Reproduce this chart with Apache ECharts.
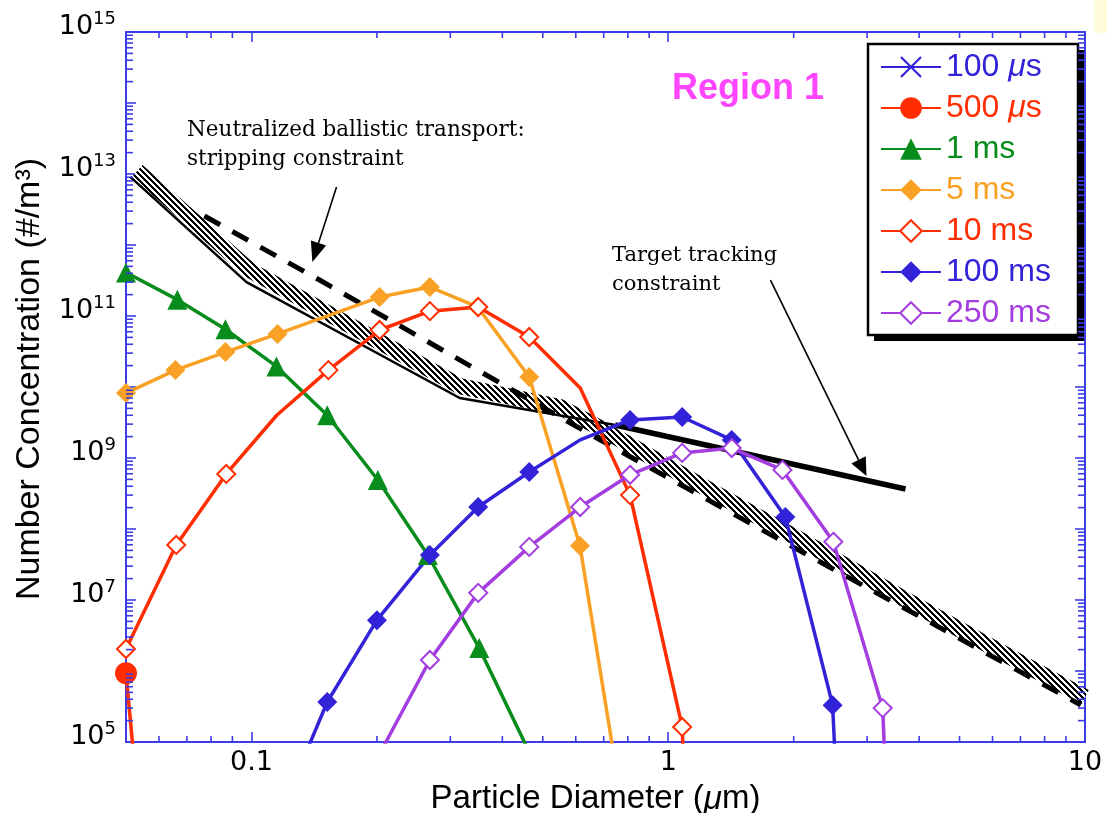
<!DOCTYPE html>
<html>
<head>
<meta charset="utf-8">
<script src="https://cdn.jsdelivr.net/npm/echarts@6/dist/echarts.min.js"></script>
<style>
  html, body { margin: 0; padding: 0; background: #ffffff; }
  #chart { width: 1107px; height: 813px; }
</style>
</head>
<body>
<div id="chart"></div>
<script>
// ---------------- data ----------------
// Particle diameter in micrometres, number concentration in #/m^3
const seriesNames = ['100 \u03bcs', '500 \u03bcs', '1 ms', '5 ms', '10 ms', '100 ms', '250 ms'];

const data100us = [];
const data500us = [[0.05, 9.3e5], [0.0526, 3.8e4]];
const data1ms = [
  [0.05, 4.1e11], [0.0664, 1.7e11], [0.0866, 6.5e10], [0.1148, 1.95e10], [0.152, 4.0e9],
  [0.201, 4.9e8], [0.265, 4.3e7], [0.352, 2.1e6], [0.46, 8e4]
];
const data5ms = [
  [0.05, 8.2e9], [0.0657, 1.73e10], [0.0866, 3.1e10], [0.1155, 5.6e10], [0.203, 1.85e11],
  [0.268, 2.56e11], [0.349, 1.34e11], [0.464, 1.38e10], [0.614, 5.8e7], [0.78, 1e4]
];
const data10ms = [
  [0.05, 2.04e6], [0.066, 5.96e7], [0.087, 5.96e8], [0.115, 4.0e9], [0.153, 1.73e10],
  [0.203, 6.35e10], [0.268, 1.17e11], [0.35, 1.34e11], [0.464, 5.06e10], [0.615, 9.7e9],
  [0.81, 3.0e8], [1.08, 1.63e5], [1.1, 1e4]
];
const data100ms = [
  [0.115, 7.4e3], [0.152, 3.66e5], [0.2, 5.2e6], [0.268, 4.3e7], [0.35, 2.04e8],
  [0.464, 6.35e8], [0.615, 1.8e9], [0.81, 3.43e9], [1.08, 3.78e9], [1.42, 1.8e9],
  [1.91, 1.48e8], [2.48, 3.3e5], [2.55, 1e4]
];
const data250ms = [
  [0.2, 5.8e4], [0.268, 1.43e6], [0.35, 1.26e7], [0.464, 5.6e7], [0.615, 2.04e8],
  [0.81, 5.8e8], [1.08, 1.18e9], [1.42, 1.38e9], [1.88, 6.8e8], [2.49, 6.6e7],
  [3.27, 3.0e5], [3.35, 1e4]
];

// Constraint curves
const strippingSolid = [[0.0512, 9.1e12], [0.0973, 3.0e11], [0.316, 7.0e9], [0.746, 2.92e9]];
const strippingDashed = [[0.0771, 2.56e12], [0.1457, 3.21e11], [0.686, 1.8e9], [1.858, 7.0e7], [9.77, 3.32e5]];
const strippingBand = [
  [0.0532, 1.1e13], [0.0989, 4.45e11], [0.316, 1.03e10], [0.55, 5.22e9], [0.686, 2.65e9],
  [1.194, 4.17e8], [2.077, 7.0e7], [3.61, 1.1e7], [6.28, 1.85e6], [10, 4.3e5]
];
const targetTracking = [[0.746, 2.92e9], [3.71, 3.66e8]];

// Axes
const xRange = [0.05, 10];
const yRange = [1e5, 1e15];
const xTickLabels = ['0.1', '1', '10'];
const yLabelExponents = [5, 7, 9, 11, 13, 15];
const xMinorTicks = [0.06, 0.07, 0.08, 0.09, 0.2, 0.3, 0.4, 0.5, 0.6, 0.7, 0.8, 0.9, 2, 3, 4, 5, 6, 7, 8, 9];
const yMinorTicks = [];
for (let e = 5; e < 15; e++) {
  for (let k = 2; k <= 9; k++) yMinorTicks.push(k * Math.pow(10, e));
}

// Annotation arrows (data coordinates)
const arrowStripping = { from: [0.160, 6.56e12], to: [0.140, 5.77e11] };
const arrowTarget = { from: [1.759, 3.21e11], to: [2.99, 5.57e8] };

// ---------------- styles ----------------
const AXIS = '#3c3ce6';
const BLUE = '#3223d9', RED = '#ff2d00', GREEN = '#088c1c', ORANGE = '#f9a125', PURPLE = '#a33ddf';
const seriesColors = [BLUE, RED, GREEN, ORANGE, RED, BLUE, PURPLE];
const CROSS = 'path://M0,0.7 L0.7,0 L5,4.3 L9.3,0 L10,0.7 L5.7,5 L10,9.3 L9.3,10 L5,5.7 L0.7,10 L0,9.3 L4.3,5 Z';

// legend frame
const LEGEND_BOX = { x: 868, y: 44, w: 210, h: 291, shadow: 6 };

// points on the line that carry no marker
const bare = {
  '500 \u03bcs': [1], '1 ms': [8], '5 ms': [9], '10 ms': [3, 9, 12],
  '100 ms': [0, 6, 12], '250 ms': [0, 11]
};

// diagonal hatch used for the stripping-constraint band
const hatch = document.createElement('canvas');
hatch.width = 6; hatch.height = 6;
(function () {
  const c = hatch.getContext('2d');
  c.fillStyle = '#ffffff'; c.fillRect(0, 0, 6, 6);
  c.fillStyle = '#000000';
  for (let i = 0; i < 6; i++) {
    c.fillRect(i, i, 1, 1);
    c.fillRect((i + 1) % 6, i, 1, 1);
    c.fillRect((i + 2) % 6, i, 1, 1);
  }
})();

function curve(name, data, color, symbol, size, hollow) {
  const skip = bare[name] || [];
  return {
    type: 'line', name, z: 3, silent: true, showAllSymbol: true, clip: true,
    symbol, symbolSize: size,
    data: data.map((p, i) => skip.includes(i) ? { value: p, symbol: 'none' } : p),
    lineStyle: { color, width: 3.5 },
    itemStyle: hollow ? { color: '#ffffff', borderColor: color, borderWidth: 2 } : { color, borderWidth: 0 },
    emphasis: { disabled: true }
  };
}

const legendRich = {};
seriesColors.forEach((c, i) => {
  legendRich['t' + i] = { color: c, fontSize: 32, fontFamily: 'Liberation Sans', lineHeight: 34 };
  legendRich['m' + i] = { color: c, fontSize: 32, fontFamily: 'Liberation Sans', fontStyle: 'italic', lineHeight: 34 };
});

const chart = echarts.init(document.getElementById('chart'), null, { renderer: 'canvas' });

function logAxis(range, position, extra) {
  return Object.assign({
    type: 'log', position, min: range[0], max: range[1], logBase: 10,
    axisLine: { show: true, onZero: false, lineStyle: { color: AXIS, width: 2 } },
    axisTick: { show: true, inside: true, length: 10, lineStyle: { color: AXIS, width: 1.6 } },
    minorTick: { show: false },
    splitLine: { show: false },
    minorSplitLine: { show: false }
  }, extra);
}

const option = {
  animation: false,
  backgroundColor: '#ffffff',
  grid: { left: 126, right: 22, top: 32, bottom: 71, containLabel: false, outerBoundsMode: 'none' },
  xAxis: [
    logAxis(xRange, 'bottom', {
      axisLabel: {
        show: true, showMinLabel: false, showMaxLabel: true, margin: 6,
        color: '#000', fontSize: 27, fontFamily: 'DejaVu Sans', lineHeight: 30,
        formatter: v => {
          const s = String(+Number(v).toPrecision(3));
          return xTickLabels.includes(s) ? s : '';
        }
      },
      name: '{n|Particle Diameter (}{i|\u03bc}{n|m)}',
      nameLocation: 'middle', nameGap: 36,
      nameTextStyle: {
        padding: [0, 20, 0, 0],
        rich: {
          n: { fontSize: 33, fontFamily: 'Liberation Sans', color: '#000', lineHeight: 36 },
          i: { fontSize: 33, fontFamily: 'Liberation Sans', fontStyle: 'italic', color: '#000', lineHeight: 36 }
        }
      }
    }),
    logAxis(xRange, 'top', { axisLabel: { show: false } })
  ],
  yAxis: [
    logAxis(yRange, 'left', {
      interval: 1,
      axisLabel: {
        show: true, margin: 10, padding: [0, 0, 13, 0],
        formatter: v => {
          const e = Math.round(Math.log10(v));
          return yLabelExponents.includes(e) ? '{b|10}{s|' + e + '}' : '';
        },
        rich: {
          b: { fontSize: 27, fontFamily: 'DejaVu Sans', color: '#000', lineHeight: 30, verticalAlign: 'bottom' },
          s: { fontSize: 18, fontFamily: 'DejaVu Sans', color: '#000', lineHeight: 30, verticalAlign: 'top' }
        }
      },
      name: 'Number Concentration (#/m\u00b3)',
      nameLocation: 'middle', nameGap: 76, nameRotate: 90,
      nameTextStyle: {
        fontSize: 34, fontFamily: 'Liberation Sans', color: '#000', lineHeight: 36,
        padding: [0, 0, 0, 16]
      }
    }),
    logAxis(yRange, 'right', { interval: 1, axisLabel: { show: false } })
  ],
  legend: {
    left: LEGEND_BOX.x, top: LEGEND_BOX.y, orient: 'vertical', selectedMode: false,
    padding: [6, 24, 5, 12], itemGap: 7, itemWidth: 60, itemHeight: 27,
    backgroundColor: 'transparent', borderWidth: 0,
    data: seriesNames.map((n, i) => ({ name: n, textStyle: { color: seriesColors[i] } })),
    formatter: name => {
      const i = seriesNames.indexOf(name);
      return name.split('\u03bc').map(s => '{t' + i + '|' + s + '}').join('{m' + i + '|\u03bc}');
    },
    textStyle: { fontSize: 32, fontFamily: 'Liberation Sans', lineHeight: 34, rich: legendRich }
  },
  series: [
    {
      type: 'line', name: 'band', z: 1, silent: true, symbol: 'none', clip: true,
      data: strippingBand,
      lineStyle: { color: { image: hatch, repeat: 'repeat' }, width: 16, cap: 'butt', join: 'miter' },
      emphasis: { disabled: true }
    },
    {
      type: 'line', name: 'solid', z: 2, silent: true, symbol: 'none', clip: true,
      data: strippingSolid, lineStyle: { color: '#000', width: 2.5 }, emphasis: { disabled: true }
    },
    {
      type: 'line', name: 'dashed', z: 2, silent: true, symbol: 'none', clip: true,
      data: strippingDashed, lineStyle: { color: '#000', width: 5, type: [18, 14], cap: 'butt' },
      emphasis: { disabled: true }
    },
    {
      type: 'line', name: 'target', z: 2, silent: true, symbol: 'none', clip: true,
      data: targetTracking, lineStyle: { color: '#000', width: 5.5 }, emphasis: { disabled: true }
    },
    curve(seriesNames[0], data100us, BLUE, CROSS, 22, false),
    curve(seriesNames[1], data500us, RED, 'circle', 22, false),
    curve(seriesNames[2], data1ms, GREEN, 'triangle', 20, false),
    curve(seriesNames[3], data5ms, ORANGE, 'diamond', 20, false),
    curve(seriesNames[4], data10ms, RED, 'diamond', 18, true),
    curve(seriesNames[5], data100ms, BLUE, 'diamond', 20, false),
    curve(seriesNames[6], data250ms, PURPLE, 'diamond', 18, true),
    {
      // logarithmic minor ticks along bottom and top edges
      type: 'custom', name: 'xMinor', z: 5, silent: true, clip: false,
      data: xMinorTicks.map(v => [v, yRange[0]]),
      renderItem: (params, api) => {
        const cs = params.coordSys;
        const px = api.coord([api.value(0), api.value(1)])[0];
        const st = { stroke: AXIS, lineWidth: 1.6 };
        return { type: 'group', children: [
          { type: 'line', shape: { x1: px, y1: cs.y + cs.height, x2: px, y2: cs.y + cs.height - 6 }, style: st },
          { type: 'line', shape: { x1: px, y1: cs.y, x2: px, y2: cs.y + 6 }, style: st }
        ] };
      }
    },
    {
      // logarithmic minor ticks along left and right edges
      type: 'custom', name: 'yMinor', z: 5, silent: true, clip: false,
      data: yMinorTicks.map(v => [xRange[0], v]),
      renderItem: (params, api) => {
        const cs = params.coordSys;
        const py = api.coord([api.value(0), api.value(1)])[1];
        const st = { stroke: AXIS, lineWidth: 1.6 };
        return { type: 'group', children: [
          { type: 'line', shape: { x1: cs.x, y1: py, x2: cs.x + 7, y2: py }, style: st },
          { type: 'line', shape: { x1: cs.x + cs.width, y1: py, x2: cs.x + cs.width - 7, y2: py }, style: st }
        ] };
      }
    }
  ]
};

chart.setOption(option);

// annotations drawn on top of the plot
const toPx = p => chart.convertToPixel({ xAxisIndex: 0, yAxisIndex: 0 }, p);
function arrow(a, head, halfW) {
  const s = toPx(a.from), t = toPx(a.to);
  const dx = t[0] - s[0], dy = t[1] - s[1];
  const len = Math.hypot(dx, dy), ux = dx / len, uy = dy / len;
  const bx = t[0] - ux * head, by = t[1] - uy * head;
  return [
    { type: 'line', z: 10, shape: { x1: s[0], y1: s[1], x2: bx, y2: by }, style: { stroke: '#000', lineWidth: 1.6 } },
    { type: 'polygon', z: 10, shape: { points: [[t[0], t[1]], [bx - uy * halfW, by + ux * halfW], [bx + uy * halfW, by - ux * halfW]] }, style: { fill: '#000' } }
  ];
}

const B = LEGEND_BOX;
chart.setOption({
  graphic: [
    { type: 'rect', left: 1094, top: 0, z: 0, shape: { width: 13, height: 33 }, style: { fill: '#fffcdc' } },
    // legend frame with its drop shadow
    { type: 'rect', x: B.x + B.shadow, y: B.y + B.shadow, z: 3.6, shape: { width: B.w, height: B.h }, style: { fill: '#000' } },
    { type: 'rect', x: B.x, y: B.y, z: 3.7, shape: { width: B.w, height: B.h }, style: { fill: '#fff', stroke: '#000', lineWidth: 2.5 } },
    ...arrow(arrowStripping, 20, 8),
    ...arrow(arrowTarget, 18, 8),
    {
      type: 'text', left: 187, top: 116, z: 10,
      style: { text: 'Neutralized ballistic transport:\nstripping constraint', font: '21.5px "DejaVu Serif"', fill: '#000', lineHeight: 29 }
    },
    {
      type: 'text', left: 612, top: 241, z: 10,
      style: { text: 'Target tracking\nconstraint', font: '21px "DejaVu Serif"', fill: '#000', lineHeight: 29 }
    },
    {
      type: 'text', left: 672, top: 71, z: 10,
      style: { text: 'Region 1', font: 'bold 36px "Liberation Sans"', fill: '#ff45ff' }
    }
  ]
});
</script>
</body>
</html>
